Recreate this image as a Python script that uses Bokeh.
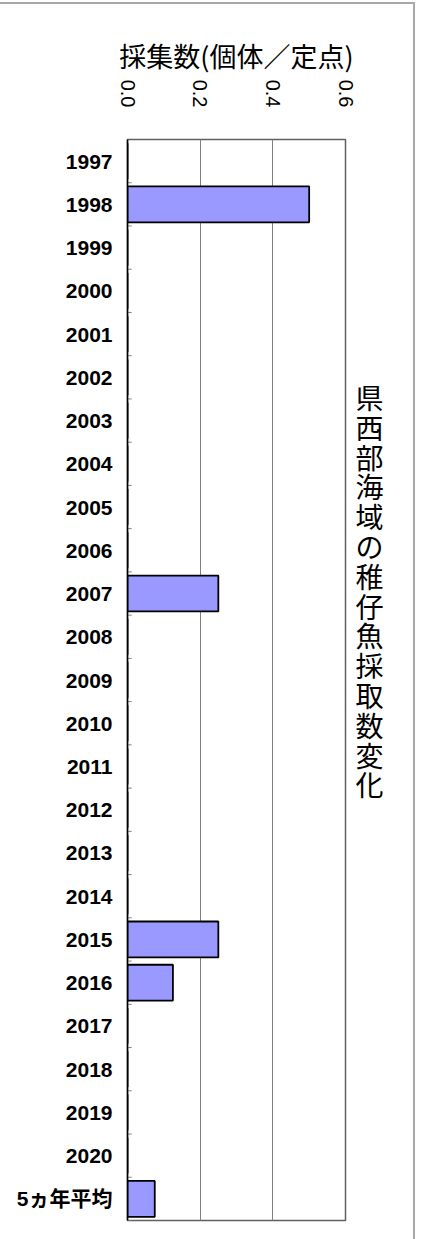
import math
from bokeh.plotting import figure
from bokeh.models import FactorRange, Range1d, FixedTicker, NumeralTickFormatter, CategoricalAxis
from bokeh.embed import file_html
from bokeh.resources import INLINE

categories = ["1997", "1998", "1999", "2000", "2001", "2002", "2003", "2004",
              "2005", "2006", "2007", "2008", "2009", "2010", "2011", "2012",
              "2013", "2014", "2015", "2016", "2017", "2018", "2019", "2020",
              "5ヵ年平均"]
values = [0, 0.5, 0, 0, 0, 0, 0, 0,
          0, 0, 0.25, 0, 0, 0, 0, 0,
          0, 0, 0.25, 0.125, 0, 0, 0, 0,
          0.075]
x_ticks = [0, 0.2, 0.4, 0.6]
x_title = "採集数(個体／定点)"
side_title = "県西部海域の稚仔魚採取数変化"

LAT = "Liberation Sans, Noto Sans CJK JP"
CJK = "Noto Sans CJK JP"

p = figure(frame_width=218, frame_height=1081,
           min_border_left=127, min_border_right=68,
           min_border_top=135, min_border_bottom=19,
           y_range=FactorRange(*reversed(categories)),
           x_range=Range1d(0, 0.6), x_axis_location="above",
           output_backend="svg", toolbar_location=None)
p.styles = {"margin-top": "2px", "border-top": "2px solid #a8a8a8",
            "border-right": "2px solid #a8a8a8"}
p.background_fill_color = "white"
p.border_fill_color = "white"
p.outline_line_color = "#606060"
p.outline_line_width = 1.5

# x axis (top)
xa = p.xaxis[0]
xa.ticker = FixedTicker(ticks=x_ticks)
xa.formatter = NumeralTickFormatter(format="0.0")
xa.major_label_orientation = -math.pi / 2
xa.major_label_text_font = LAT
xa.major_label_text_font_size = "20px"
xa.major_label_text_color = "black"
xa.major_tick_in = 0
xa.major_tick_out = 0
xa.minor_tick_in = 0
xa.minor_tick_out = 0
xa.axis_line_color = None
xa.major_label_standoff = 32
xa.axis_label = x_title
xa.axis_label_text_font = CJK
xa.axis_label_text_font_size = "27px"
xa.axis_label_text_font_style = "normal"
xa.axis_label_text_color = "black"
xa.axis_label_standoff = 2

# y axis (left)
ya = p.yaxis[0]
ya.major_label_text_font = LAT
ya.major_label_text_font_style = "bold"
ya.major_label_text_font_size = "21px"
ya.major_label_text_color = "black"
ya.major_tick_in = 0
ya.major_tick_out = 0
ya.axis_line_color = "black"
ya.axis_line_width = 1.5
ya.major_label_standoff = 15

# right axis carrying the stacked (vertical) side title
ra = CategoricalAxis()
ra.major_label_text_font_size = "0px"
ra.major_label_standoff = 0
ra.major_tick_in = 0
ra.major_tick_out = 0
ra.axis_line_color = None
ra.axis_label = "\n".join(side_title) + "\n" * 6
ra.axis_label_orientation = "horizontal"
ra.axis_label_text_font = CJK
ra.axis_label_text_font_size = "28px"
ra.axis_label_text_font_style = "normal"
ra.axis_label_text_color = "black"
ra.axis_label_text_line_height = 0.745
ra.axis_label_standoff = 10
p.add_layout(ra, "right")

p.xgrid.ticker = FixedTicker(ticks=x_ticks)
p.xgrid.grid_line_color = "#808080"
p.ygrid.grid_line_color = None

# category boundary ticks on the inside of the left axis
bounds = [(c, -0.5) for c in categories]
p.segment(x0=0, y0=bounds, x1=0.0115, y1=bounds, line_color="#808080", line_width=1)

p.hbar(y=categories, left=0, right=values, height=0.83,
       fill_color="#9999FF", line_color="black", line_width=1.8)

open("out.html", "w").write(file_html(p, INLINE))
